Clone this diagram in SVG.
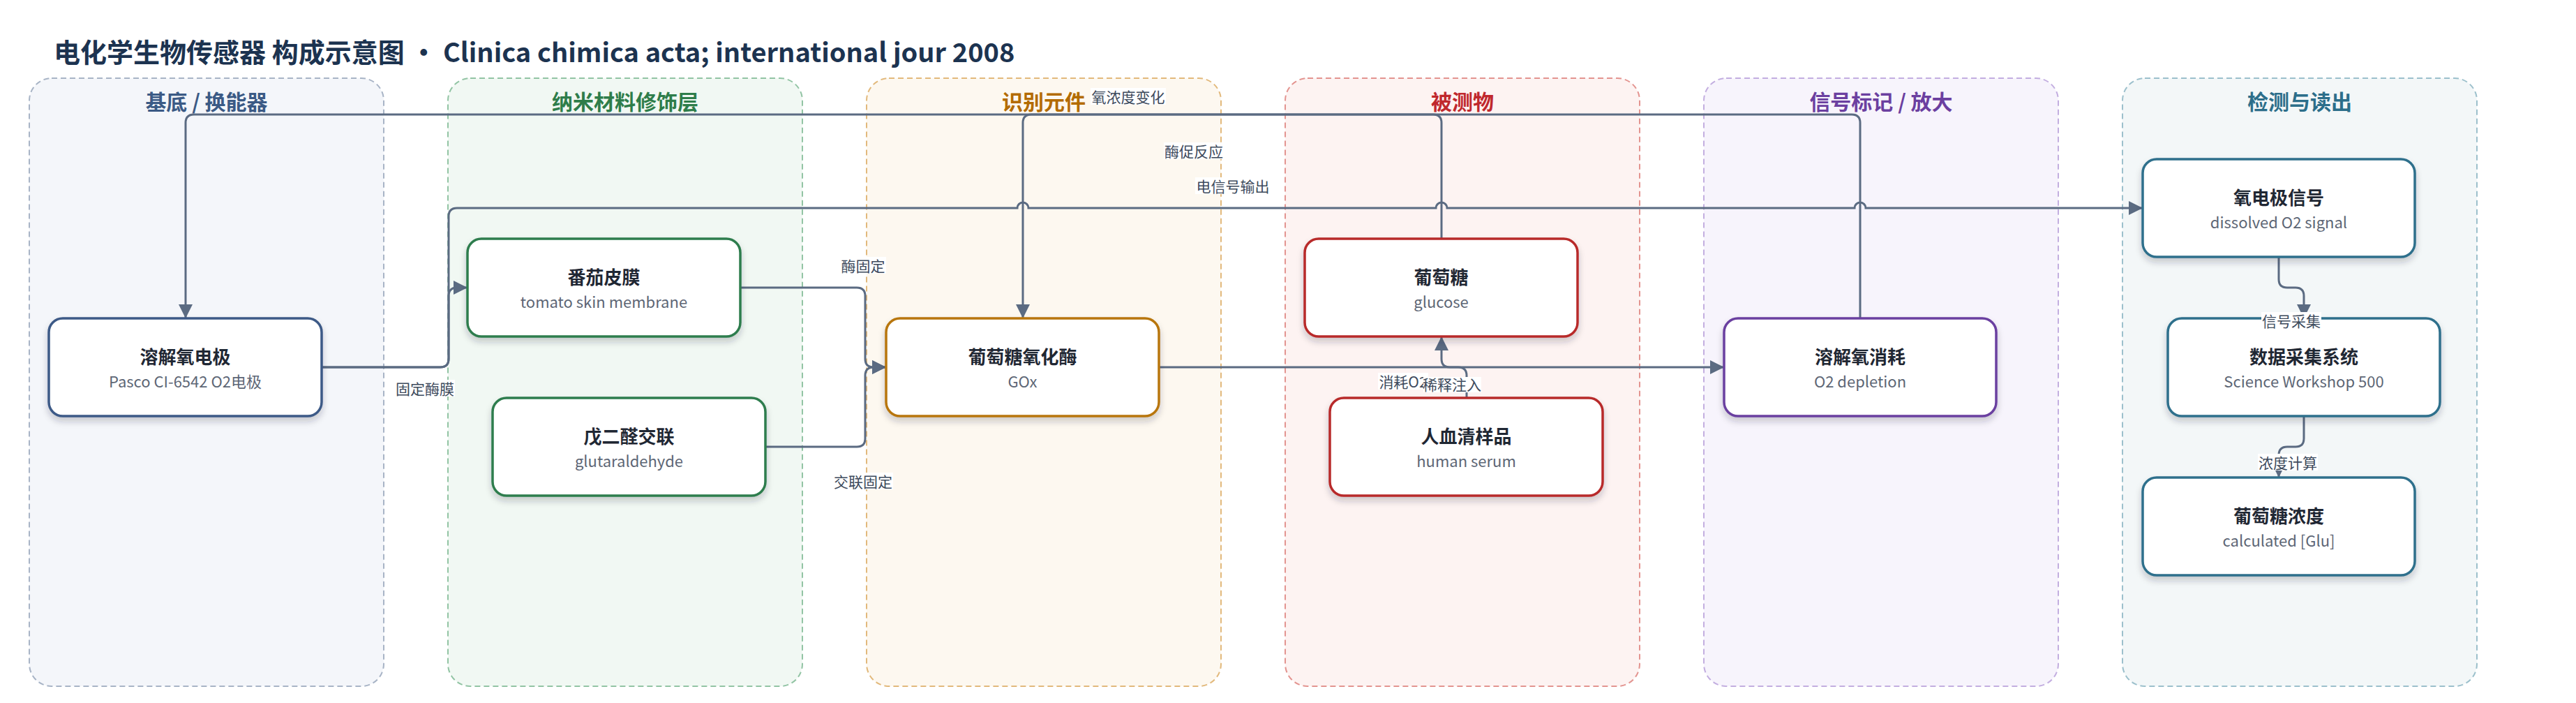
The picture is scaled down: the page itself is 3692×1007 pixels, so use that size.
<svg xmlns="http://www.w3.org/2000/svg" width="3692" height="1007" viewBox="0 0 3692 1007">
<defs>
<style>
text{font-family:"Noto Sans CJK SC","Noto Sans",sans-serif;}
.title{font-size:38px;font-weight:700;fill:#1c3350;}
.lane{stroke-width:2;stroke-dasharray:8 5;}
.lt{font-size:30px;font-weight:700;text-anchor:middle;}
.node{fill:#ffffff;stroke-width:3.5;filter:url(#sh);}
.nt{font-size:26px;font-weight:700;fill:#1f2733;text-anchor:middle;}
.ns{font-size:22px;fill:#5d6675;text-anchor:middle;}
.edge{fill:none;stroke:#5b6b82;stroke-width:3;marker-end:url(#arr);}
.lbg{fill:#ffffff;}
.lbl{font-size:21px;fill:#3d4a5c;text-anchor:middle;dominant-baseline:central;}
</style>
<filter id="sh" x="-10%" y="-10%" width="120%" height="140%">
<feDropShadow dx="0" dy="6" stdDeviation="5" flood-color="#1f2937" flood-opacity="0.22"/>
</filter>
<marker id="arr" markerUnits="userSpaceOnUse" markerWidth="20" markerHeight="20" refX="20" refY="10" orient="auto">
<path d="M0,0 L20,10 L0,20 z" fill="#5b6b82"/>
</marker>
</defs>
<rect x="0" y="0" width="3692" height="1007" fill="#ffffff"/>
<text class="title" x="77" y="89">电化学生物传感器 构成示意图 · Clinica chimica acta; international jour 2008</text>

<g id="lanes">
<g id="lane-substrate"><rect class="lane" x="42" y="112" width="508" height="871" rx="32" fill="#f4f6fa" stroke="#a8b4c6"/><text class="lt" x="296" y="157" fill="#3b5a85">基底 / 换能器</text></g>
<g id="lane-nano"><rect class="lane" x="642" y="112" width="508" height="871" rx="32" fill="#f1f8f3" stroke="#92c4a4"/><text class="lt" x="896" y="157" fill="#2e7d4a">纳米材料修饰层</text></g>
<g id="lane-recog"><rect class="lane" x="1242" y="112" width="508" height="871" rx="32" fill="#fdf8f0" stroke="#e2b97c"/><text class="lt" x="1496" y="157" fill="#b36b00">识别元件</text></g>
<g id="lane-analyte"><rect class="lane" x="1842" y="112" width="508" height="871" rx="32" fill="#fdf3f2" stroke="#e39490"/><text class="lt" x="2096" y="157" fill="#c0282d">被测物</text></g>
<g id="lane-signal"><rect class="lane" x="2442" y="112" width="508" height="871" rx="32" fill="#f7f4fc" stroke="#c3aee0"/><text class="lt" x="2696" y="157" fill="#6b3fa0">信号标记 / 放大</text></g>
<g id="lane-readout"><rect class="lane" x="3042" y="112" width="508" height="871" rx="32" fill="#f3f7f8" stroke="#9cc0cc"/><text class="lt" x="3296" y="157" fill="#2c6e8a">检测与读出</text></g>
</g>

<g id="connectors">
<path class="edge" d="M461,526 H631 Q643,526 643,514 V424 Q643,412 655,412 H670"/>
<path class="edge" d="M461,526 H631 Q643,526 643,514 V310 Q643,298 655,298 H1458 A8,8 0 0 1 1474,298 H2058 A8,8 0 0 1 2074,298 H2658 A8,8 0 0 1 2674,298 H3071"/>
<path class="edge" d="M2666,456 V176 Q2666,164 2654,164 H278 Q266,164 266,176 V456"/>
<path class="edge" d="M2066,342 V176 Q2066,164 2054,164 H1478 Q1466,164 1466,176 V456"/>
<path class="edge" d="M1061,412 H1228 Q1240,412 1240,424 V514 Q1240,526 1252,526 H1270"/>
<path class="edge" d="M1097,640 H1228 Q1240,640 1240,628 V538 Q1240,526 1252,526 H1270"/>
<path class="edge" d="M1661,526 H2471"/>
<path class="edge" d="M2102,570 V538 Q2102,526 2090,526 H2078 Q2066,526 2066,514 V482"/>
<path class="edge" d="M3266,368 V400 Q3266,412 3278,412 H3290 Q3302,412 3302,424 V456"/>
<path class="edge" d="M3302,596 V628 Q3302,640 3290,640 H3278 Q3266,640 3266,652 V684"/>
</g>

<g id="nodes">
<g id="n-electrode"><rect class="node" x="70" y="456" width="391" height="140" rx="20" stroke="#3d5a87"/><text class="nt" x="265.5" y="521">溶解氧电极</text><text class="ns" x="265.5" y="555">Pasco CI-6542 O2电极</text></g>
<g id="n-tomato"><rect class="node" x="670" y="342" width="391" height="140" rx="20" stroke="#2e7d4e"/><text class="nt" x="865.5" y="407">番茄皮膜</text><text class="ns" x="865.5" y="441">tomato skin membrane</text></g>
<g id="n-glut"><rect class="node" x="706" y="570" width="391" height="140" rx="20" stroke="#2e7d4e"/><text class="nt" x="901.5" y="635">戊二醛交联</text><text class="ns" x="901.5" y="669">glutaraldehyde</text></g>
<g id="n-gox"><rect class="node" x="1270" y="456" width="391" height="140" rx="20" stroke="#b8760b"/><text class="nt" x="1465.5" y="521">葡萄糖氧化酶</text><text class="ns" x="1465.5" y="555">GOx</text></g>
<g id="n-glucose"><rect class="node" x="1870" y="342" width="391" height="140" rx="20" stroke="#b82a2a"/><text class="nt" x="2065.5" y="407">葡萄糖</text><text class="ns" x="2065.5" y="441">glucose</text></g>
<g id="n-serum"><rect class="node" x="1906" y="570" width="391" height="140" rx="20" stroke="#b82a2a"/><text class="nt" x="2101.5" y="635">人血清样品</text><text class="ns" x="2101.5" y="669">human serum</text></g>
<g id="n-depletion"><rect class="node" x="2471" y="456" width="390" height="140" rx="20" stroke="#6b3fa0"/><text class="nt" x="2666" y="521">溶解氧消耗</text><text class="ns" x="2666" y="555">O2 depletion</text></g>
<g id="n-o2signal"><rect class="node" x="3071" y="228" width="390" height="140" rx="20" stroke="#2f6f8c"/><text class="nt" x="3266" y="293">氧电极信号</text><text class="ns" x="3266" y="327">dissolved O2 signal</text></g>
<g id="n-daq"><rect class="node" x="3107" y="456" width="390" height="140" rx="20" stroke="#2f6f8c"/><text class="nt" x="3302" y="521">数据采集系统</text><text class="ns" x="3302" y="555">Science Workshop 500</text></g>
<g id="n-conc"><rect class="node" x="3071" y="684" width="390" height="140" rx="20" stroke="#2f6f8c"/><text class="nt" x="3266" y="749">葡萄糖浓度</text><text class="ns" x="3266" y="783">calculated [Glu]</text></g>
</g>

<g id="labels">
<rect class="lbg" x="566" y="544" width="86" height="24"/><text class="lbl" x="609" y="556">固定酶膜</text>
<rect class="lbg" x="1204" y="368" width="66" height="24"/><text class="lbl" x="1237" y="380">酶固定</text>
<rect class="lbg" x="1194" y="677" width="86" height="24"/><text class="lbl" x="1237" y="689">交联固定</text>
<rect class="lbg" x="1563" y="126" width="108" height="24"/><text class="lbl" x="1617" y="138">氧浓度变化</text>
<rect class="lbg" x="1668" y="204" width="86" height="24"/><text class="lbl" x="1711" y="216">酶促反应</text>
<rect class="lbg" x="1713" y="254" width="108" height="24"/><text class="lbl" x="1767" y="266">电信号输出</text>
<rect class="lbg" x="1975" y="534" width="72" height="24"/><text class="lbl" x="2011" y="546">消耗O2</text>
<rect class="lbg" x="2040" y="540" width="83" height="22"/><text class="lbl" x="2081" y="550">稀释注入</text>
<rect class="lbg" x="3241" y="447" width="86" height="24"/><text class="lbl" x="3284" y="459">信号采集</text>
<rect class="lbg" x="3236" y="650" width="86" height="24"/><text class="lbl" x="3279" y="662">浓度计算</text>
</g>
</svg>
